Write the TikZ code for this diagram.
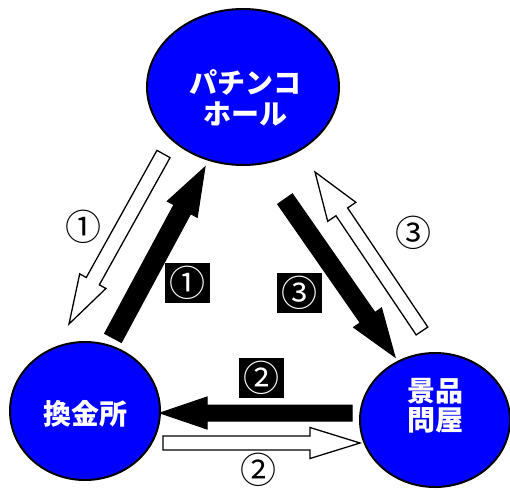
\documentclass[tikz,border=0pt]{standalone}
\usepackage{fontspec}
\newfontfamily\jpfont{Noto Sans CJK JP}
\usetikzlibrary{calc,shapes.geometric}
\tikzset{
  place/.style={ellipse, draw=black, line width=2pt, fill=blue, inner sep=0pt},
  placetext/.style={text=white, inner sep=0pt, align=center,
    font=\jpfont\bfseries\fontsize{28}{31}\selectfont},
  blackarr/.style={fill=black, draw=black, line width=1pt, line join=miter},
  whitearr/.style={fill=white, draw=black, line width=1.3pt, line join=miter},
  numplain/.style={font=\jpfont\fontsize{36}{36}\selectfont, inner sep=0pt, text=black},
  numbox/.style={fill=black, text=white, font=\jpfont\fontsize{36}{36}\selectfont,
    minimum width=45pt, minimum height=40pt, inner sep=0pt}
}
% tail, tip, half shaft, half head, head length, style
\newcommand{\blockarrow}[6]{%
  \coordinate (hb) at ($(#2)!#5!(#1)$);
  \path[#6] ($(#1)!#3!90:(#2)$) -- ($(hb)!#3!90:(#2)$) -- ($(hb)!#4!90:(#2)$) -- (#2)
    -- ($(hb)!#4!-90:(#2)$) -- ($(hb)!#3!-90:(#2)$) -- ($(#1)!#3!-90:(#2)$) -- cycle;
}
\begin{document}
\begin{tikzpicture}[x=1pt,y=-1pt]
\useasboundingbox (0,0) rectangle (510,489);
\fill[white] (0,0) rectangle (510,489);

\node[place, minimum width=192pt, minimum height=156pt] (hall) at (243,87) {};
\node[placetext] (hallt) at (245,98) {パチンコ\\ホール};
\node[place, minimum width=150pt, minimum height=138pt] (exch) at (85,411) {};
\node[placetext] (excht) at (85,414) {換金所};
\node[place, minimum width=150pt, minimum height=134pt] (whole) at (435,420) {};
\node[placetext, font=\jpfont\bfseries\fontsize{28}{29}\selectfont] (wholet) at (435,406) {景品\\問屋};

% arrow 1
\coordinate (w1t) at (163.5,154); \coordinate (w1h) at (69,324);
\blockarrow{w1t}{w1h}{7.5pt}{15pt}{49pt}{whitearr}
\coordinate (b1t) at (113,338); \coordinate (b1h) at (205,167);
\blockarrow{b1t}{b1h}{9.5pt}{17pt}{48pt}{blackarr}
% arrow 3
\coordinate (b3t) at (285,199); \coordinate (b3h) at (395,357);
\blockarrow{b3t}{b3h}{9pt}{17pt}{48pt}{blackarr}
\coordinate (w3t) at (422,331); \coordinate (w3h) at (315,172);
\blockarrow{w3t}{w3h}{7pt}{17pt}{48pt}{whitearr}
% arrow 2
\coordinate (b2t) at (352,413); \coordinate (b2h) at (160,413);
\blockarrow{b2t}{b2h}{8pt}{16pt}{47pt}{blackarr}
\coordinate (w2t) at (163,443); \coordinate (w2h) at (360,443);
\blockarrow{w2t}{w2h}{7pt}{15.5pt}{50pt}{whitearr}

% labels
\node[numplain] (l1) at (83,227) {①};
\node[numbox] (k1) at (187.5,283) {①};
\node[numbox] (k3) at (299.5,292.5) {③};
\node[numplain] (l3) at (413,233) {③};
\node[numbox] (k2) at (261.5,377.5) {②};
\node[numplain] (l2) at (258,470) {②};
\end{tikzpicture}
\end{document}
